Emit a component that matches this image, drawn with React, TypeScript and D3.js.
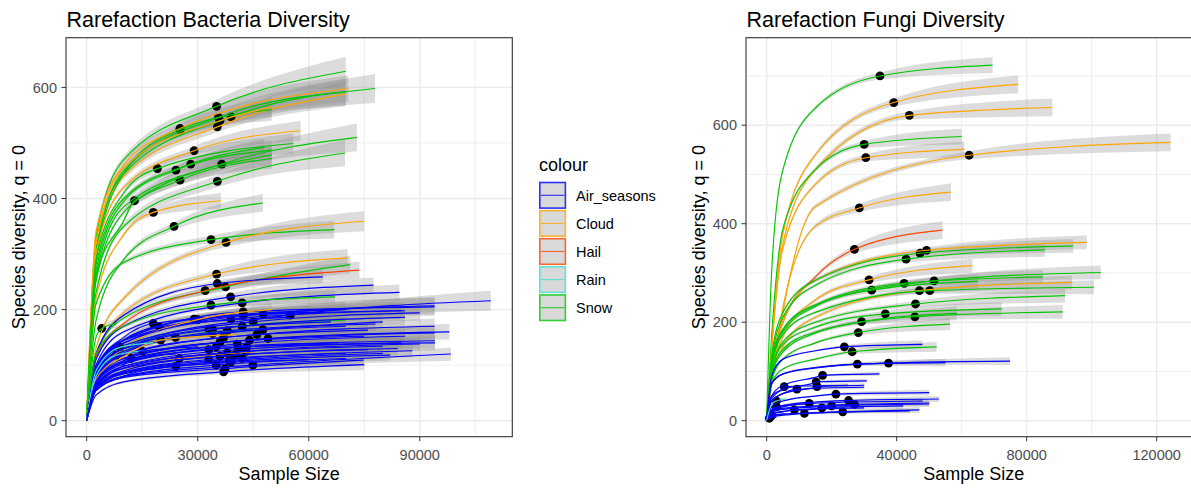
import React from "react";
import * as d3 from "d3";

const W = 1191;
const H = 488;
const TOP = 37.7;
const BOTTOM = 436.7;
const FONT = "Liberation Sans, Arial, Helvetica, sans-serif";

const legendLabels = ["Air_seasons", "Cloud", "Hail", "Rain", "Snow"];
const seriesColors = ["#0000ff", "#ffa500", "#ff4500", "#40e0d0", "#00c800"];

const bacteriaXTicks = [0, 30000, 60000, 90000];
const bacteriaXMinor = [15000, 45000, 75000, 105000];
const bacteriaYMinor = [100, 300, 500];
const fungiXTicks = [0, 40000, 80000, 120000];
const fungiXMinor = [20000, 60000, 100000];
const fungiYMinor = [100, 300, 500, 700];
const yTicks = [0, 200, 400, 600];

const bacteriaKnots = [2500, 10000];
const fungiKnots = [1500, 5000, 15000];

// [group, sample size, observed S, extrapolated size, S at end, CI half-width at end, S at each knot...]
const bacteriaCurves = [
  [4, 35100, 566, 70000, 629, 26, 330, 470],
  [1, 25200, 526, 70700, 598, 24, 340, 460],
  [4, 39000, 547, 77900, 598, 26, 310, 445],
  [1, 35300, 529, 70000, 588, 22, 320, 440],
  [4, 35600, 546, 70000, 592, 24, 300, 450],
  [4, 25200, 524, 50000, 560, 20, 290, 445],
  [1, 36000, 540, 50000, 565, 18, 320, 455],
  [1, 29000, 486, 57800, 522, 18, 300, 420],
  [4, 36500, 462, 73000, 510, 25, 260, 385],
  [4, 35300, 431, 69800, 482, 24, 230, 350],
  [4, 19100, 454, 55800, 499, 18, 290, 410],
  [4, 24100, 451, 50000, 487, 18, 270, 395],
  [4, 25200, 433, 50000, 472, 18, 250, 375],
  [4, 28100, 462, 48000, 492, 16, 280, 400],
  [4, 12900, 396, 50000, 478, 18, 260, 360],
  [1, 18000, 375, 36300, 396, 14, 220, 335],
  [4, 23600, 350, 47600, 392, 16, 180, 290],
  [4, 33600, 326, 66900, 344, 16, 210, 285],
  [1, 37650, 321, 75000, 359, 18, 130, 220],
  [1, 35100, 264, 70500, 293, 16, 110, 195],
  [4, 37500, 241, 71200, 281, 16, 120, 185],
  [2, 32000, 234, 73700, 271, 15, 115, 175],
  [0, 35300, 247, 63800, 259, 12, 120, 190],
  [0, 38900, 223, 77500, 244, 14, 110, 170],
  [0, 42000, 212, 84500, 231, 14, 100, 160],
  [4, 33600, 208, 67100, 223, 12, 120, 170],
  [0, 55000, 190, 109200, 216, 18, 90, 135],
  [0, 47700, 192, 94000, 207, 16, 95, 145],
  [0, 42300, 196, 94000, 205, 16, 95, 145],
  [4, 4050, 166, 8100, 175, 8, 150, 160],
  [4, 34000, 165, 69800, 181, 12, 90, 135],
  [4, 24000, 150, 48000, 165, 10, 85, 125],
  [0, 18000, 175, 60000, 195, 12, 95, 150],
  [0, 19600, 169, 55000, 186, 12, 90, 145],
  [0, 29000, 183, 70000, 200, 14, 90, 145],
  [0, 42300, 190, 85000, 198, 16, 90, 140],
  [0, 47600, 164, 80000, 178, 14, 85, 130],
  [1, 30000, 182, 50000, 200, 12, 80, 130],
  [0, 35000, 133, 94100, 144, 14, 70, 105],
  [0, 40700, 138, 86000, 152, 14, 72, 108],
  [0, 43200, 133, 94100, 140, 14, 70, 105],
  [0, 37400, 94, 74800, 109, 10, 55, 78],
  [0, 44900, 100, 98400, 120, 12, 55, 80],
  [0, 24100, 98, 60000, 110, 10, 55, 80],
  [1, 25000, 112, 45000, 124, 8, 60, 90],
  [0, 38000, 122, 80000, 134, 12, 62, 95],
  [0, 41000, 128, 85000, 140, 12, 64, 98],
  [0, 36000, 116, 76000, 128, 10, 60, 90],
  [0, 42000, 112, 88000, 126, 12, 58, 88],
  [0, 39000, 106, 82000, 118, 10, 56, 84],
  [0, 33000, 110, 70000, 121, 10, 58, 86],
  [0, 44000, 145, 94000, 158, 14, 74, 112],
  [0, 37000, 150, 76000, 163, 12, 78, 118],
  [0, 34000, 157, 70000, 170, 12, 82, 125],
  [0, 42000, 170, 86000, 186, 14, 85, 130],
  [0, 45000, 178, 90000, 194, 14, 88, 135],
  [0, 36000, 141, 75000, 152, 12, 75, 112],
  [0, 33000, 128, 68000, 140, 10, 68, 102],
  [0, 46000, 155, 94000, 170, 14, 78, 118],
  [0, 49000, 148, 98000, 160, 14, 74, 112],
  [0, 40000, 118, 84000, 130, 12, 62, 94],
  [0, 43000, 125, 90000, 138, 12, 64, 98],
  [0, 35000, 100, 70000, 112, 10, 54, 80],
  [0, 38500, 108, 80000, 121, 10, 57, 86],
  [0, 38000, 162, 78000, 174, 12, 80, 122],
  [0, 33000, 165, 66000, 178, 12, 85, 130],
  [0, 39000, 183, 86000, 198, 14, 90, 140],
  [0, 37000, 88, 75000, 101, 10, 46, 70],
  [1, 20000, 145, 40000, 155, 8, 75, 115],
  [3, 8000, 118, 16000, 126, 6, 80, 110],
  [3, 9000, 132, 18000, 140, 6, 90, 125],
  [0, 12000, 112, 24000, 120, 6, 65, 100],
  [0, 15000, 125, 30000, 133, 6, 70, 108],
];

const fungiCurves = [
  [4, 34860, 700, 69500, 722, 16, 300, 510, 635],
  [1, 39100, 646, 77400, 683, 18, 150, 380, 540],
  [1, 43900, 620, 87900, 636, 18, 140, 360, 510],
  [4, 30000, 561, 60000, 577, 16, 170, 390, 510],
  [1, 30500, 534, 60800, 551, 16, 150, 350, 480],
  [1, 62300, 539, 124300, 565, 18, 70, 220, 435],
  [1, 28500, 432, 56700, 464, 18, 80, 230, 395],
  [2, 27000, 348, 54100, 387, 18, 110, 200, 292],
  [1, 49200, 346, 98500, 362, 14, 100, 200, 285],
  [4, 47200, 340, 94300, 355, 14, 130, 220, 285],
  [4, 42900, 328, 85600, 347, 14, 120, 210, 275],
  [1, 31500, 286, 63300, 315, 14, 90, 170, 245],
  [4, 51500, 284, 102800, 301, 14, 120, 185, 235],
  [1, 47000, 264, 94000, 281, 14, 80, 150, 210],
  [4, 50200, 264, 100700, 271, 14, 110, 175, 220],
  [4, 42300, 279, 85000, 292, 14, 115, 185, 235],
  [4, 32300, 265, 65000, 283, 14, 110, 180, 232],
  [4, 45800, 237, 91800, 254, 14, 100, 160, 200],
  [4, 45600, 211, 91100, 221, 14, 95, 145, 180],
  [4, 36500, 217, 72300, 227, 14, 100, 155, 190],
  [4, 29200, 201, 58500, 218, 14, 90, 140, 178],
  [4, 28200, 179, 56400, 196, 12, 80, 125, 158],
  [4, 26300, 140, 52300, 150, 10, 75, 105, 125],
  [0, 23900, 150, 47900, 155, 8, 90, 125, 142],
  [0, 37500, 117, 74900, 121, 8, 75, 95, 108],
  [0, 27900, 115, 55000, 118, 8, 75, 95, 107],
  [0, 17200, 92, 34700, 95, 4, 50, 72, 88],
  [0, 15200, 79, 30800, 81, 4, 45, 63, 78],
  [0, 15500, 69, 30000, 72, 4, 40, 55, 68],
  [0, 9300, 64, 30000, 68, 4, 40, 55, 62],
  [0, 5400, 69, 25000, 72, 4, 50, 66, 70],
  [0, 21300, 54, 50000, 57, 6, 28, 40, 50],
  [0, 25200, 41, 53000, 44, 6, 22, 31, 38],
  [0, 13100, 35, 48000, 40, 6, 20, 28, 34],
  [0, 23400, 18, 47000, 22, 6, 10, 13, 16],
  [0, 11600, 15, 44000, 20, 5, 8, 11, 14],
  [0, 20000, 30, 50000, 34, 6, 17, 23, 28],
  [0, 27000, 33, 50000, 36, 6, 18, 25, 30],
  [0, 17000, 26, 42000, 30, 5, 14, 19, 24],
  [0, 8500, 22, 30000, 26, 4, 13, 18, 21],
  [0, 3000, 28, 12000, 34, 3, 22, 30, 33],
  [0, 1500, 10, 6000, 14, 2, 9, 12, 13],
  [0, 800, 5, 3000, 7, 1, 4, 6, 7],
  [3, 3000, 40, 6000, 44, 3, 33, 42, 44],
];

function curvePoints(c: number[], knots: number[]) {
  const [, n, S, end, E, ci] = c;
  const early = c.slice(6);
  const pts: [number, number, number][] = [[0, 1, 0]];
  knots.forEach((k, i) => {
    if (k < n) pts.push([k, early[i], ci * 0.25]);
  });
  pts.push([n, S, ci * 0.45]);
  pts.push([end, E, ci]);
  return pts;
}

function Panel({ id, title, curves, knots, xDomain, yDomain, left, right, xTicks, xMinor, yMinor }: any) {
  const x = d3.scaleLinear().domain(xDomain).range([left, right]);
  const y = d3.scaleLinear().domain(yDomain).range([BOTTOM, TOP]);
  const line = d3
    .line<[number, number, number]>()
    .x((d) => x(d[0]))
    .y((d) => y(d[1]))
    .curve(d3.curveMonotoneX);
  const band = d3
    .area<[number, number, number]>()
    .x((d) => x(d[0]))
    .y0((d) => y(d[1] - d[2]))
    .y1((d) => y(d[1] + d[2]))
    .curve(d3.curveMonotoneX);
  const all = curves.map((c: number[]) => curvePoints(c, knots));
  const clip = `clip-${id}`;
  return (
    <g>
      <defs>
        <clipPath id={clip}>
          <rect x={left} y={TOP} width={right - left} height={BOTTOM - TOP} />
        </clipPath>
      </defs>
      <text x={left + 0.5} y={27} fontSize={21.5} fill="#000">
        {title}
      </text>
      <g clipPath={`url(#${clip})`}>
        {xMinor.map((t: number) => (
          <line key={"xm" + t} x1={x(t)} x2={x(t)} y1={TOP} y2={BOTTOM} stroke="#ebebeb" strokeWidth={0.8} />
        ))}
        {yMinor.map((t: number) => (
          <line key={"ym" + t} x1={left} x2={right} y1={y(t)} y2={y(t)} stroke="#ebebeb" strokeWidth={0.8} />
        ))}
        {xTicks.map((t: number) => (
          <line key={"xg" + t} x1={x(t)} x2={x(t)} y1={TOP} y2={BOTTOM} stroke="#ebebeb" strokeWidth={1.4} />
        ))}
        {yTicks.map((t: number) => (
          <line key={"yg" + t} x1={left} x2={right} y1={y(t)} y2={y(t)} stroke="#ebebeb" strokeWidth={1.4} />
        ))}
        {all.map((p: any, i: number) => (
          <path key={"r" + i} d={band(p) || ""} fill="#8c8c8c" fillOpacity={0.3} />
        ))}
        {curves.map((c: number[], i: number) => (
          <circle key={"p" + i} cx={x(c[1])} cy={y(c[2])} r={4.4} fill="#000" />
        ))}
        {all.map((p: any, i: number) => (
          <path
            key={"l" + i}
            d={line(p) || ""}
            fill="none"
            stroke={seriesColors[curves[i][0]]}
            strokeWidth={1.15}
          />
        ))}
      </g>
      <rect x={left} y={TOP} width={right - left} height={BOTTOM - TOP} fill="none" stroke="#333" strokeWidth={1.1} />
      {xTicks.map((t: number) => (
        <g key={"xt" + t}>
          <line x1={x(t)} x2={x(t)} y1={BOTTOM} y2={BOTTOM + 4.5} stroke="#333" strokeWidth={1} />
          <text x={x(t)} y={459.5} fontSize={14.5} fill="#4d4d4d" textAnchor="middle">
            {t}
          </text>
        </g>
      ))}
      {yTicks.map((t: number) => (
        <g key={"yt" + t}>
          <line x1={left - 4.5} x2={left} y1={y(t)} y2={y(t)} stroke="#333" strokeWidth={1} />
          <text x={left - 9} y={y(t)} dy="0.36em" fontSize={14.5} fill="#4d4d4d" textAnchor="end">
            {t}
          </text>
        </g>
      ))}
      <text x={(left + right) / 2} y={480} fontSize={18} textAnchor="middle" fill="#000">
        Sample Size
      </text>
      <text
        transform={`translate(${left - 41.5},${(TOP + BOTTOM) / 2}) rotate(-90)`}
        fontSize={18}
        textAnchor="middle"
        fill="#000"
      >
        Species diversity, q = 0
      </text>
    </g>
  );
}

function Legend() {
  const x0 = 539;
  const y0 = 181.7;
  const step = 28.1;
  return (
    <g>
      <text x={x0} y={170.5} fontSize={18} fill="#000">
        colour
      </text>
      {legendLabels.map((lab, i) => (
        <g key={lab}>
          <rect
            x={x0 + 0.8}
            y={y0 + i * step + 0.8}
            width={25.6}
            height={25.6}
            fill="#d9d9d9"
            stroke={seriesColors[i]}
            strokeOpacity={0.8}
            strokeWidth={1.6}
          />
          <line
            x1={x0 + 2}
            x2={x0 + 25.5}
            y1={y0 + i * step + 13.6}
            y2={y0 + i * step + 13.6}
            stroke={seriesColors[i]}
            strokeOpacity={0.8}
            strokeWidth={1.1}
          />
          <text x={576} y={y0 + i * step + 13.6} dy="0.36em" fontSize={14.5} fill="#000">
            {lab}
          </text>
        </g>
      ))}
    </g>
  );
}

export default function App() {
  return (
    <svg
      width={W}
      height={H}
      fontFamily={FONT}
      style={{ position: "absolute", left: 0, top: 0, background: "#fff" }}
    >
      <rect width={W} height={H} fill="#fff" />
      <Panel
        id="bac"
        title="Rarefaction Bacteria Diversity"
        curves={bacteriaCurves}
        knots={bacteriaKnots}
        xDomain={[-5600, 115000]}
        yDomain={[-28.8, 689.5]}
        left={66}
        right={512.3}
        xTicks={bacteriaXTicks}
        xMinor={bacteriaXMinor}
        yMinor={bacteriaYMinor}
      />
      <Panel
        id="fun"
        title="Rarefaction Fungi Diversity"
        curves={fungiCurves}
        knots={fungiKnots}
        xDomain={[-6370, 133800]}
        yDomain={[-32.5, 777.7]}
        left={746}
        right={1201.5}
        xTicks={fungiXTicks}
        xMinor={fungiXMinor}
        yMinor={fungiYMinor}
      />
      <Legend />
    </svg>
  );
}
